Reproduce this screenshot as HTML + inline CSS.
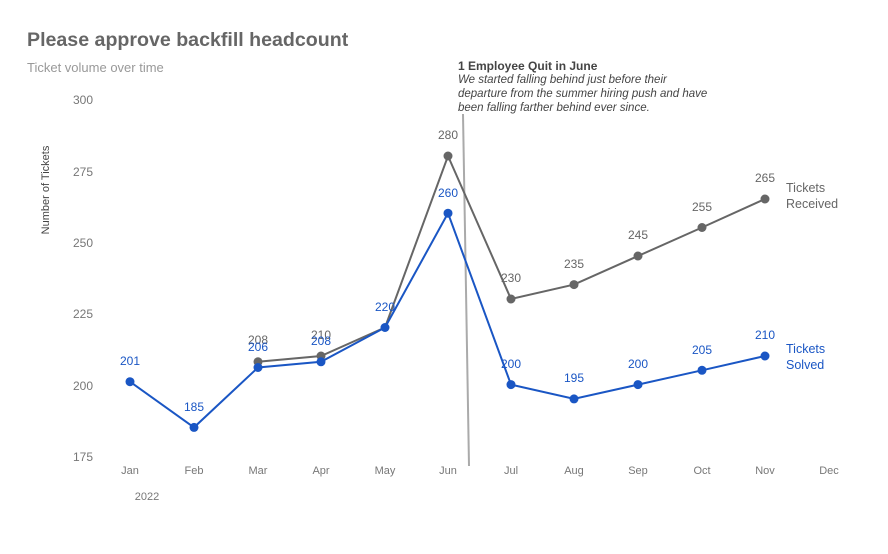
<!DOCTYPE html><html><head><style>body{margin:0;background:#fff}svg{font-family:"Liberation Sans",sans-serif}</style></head><body>
<svg width="888" height="549" viewBox="0 0 888 549">
<text x="27" y="46" font-size="19.6" font-weight="bold" fill="#666">Please approve backfill headcount</text>
<text x="27" y="72" font-size="13" fill="#999">Ticket volume over time</text>
<g font-size="12" fill="#777" text-anchor="end">
<text x="93" y="104">300</text><text x="93" y="176">275</text><text x="93" y="247">250</text><text x="93" y="318">225</text><text x="93" y="390">200</text><text x="93" y="461">175</text></g>
<text transform="translate(49,190) rotate(-90)" font-size="11" fill="#444" text-anchor="middle">Number of Tickets</text>
<g font-size="11" fill="#777" text-anchor="middle">
<text x="130" y="474">Jan</text><text x="194" y="474">Feb</text><text x="258" y="474">Mar</text><text x="321" y="474">Apr</text><text x="385" y="474">May</text><text x="448" y="474">Jun</text><text x="511" y="474">Jul</text><text x="574" y="474">Aug</text><text x="638" y="474">Sep</text><text x="702" y="474">Oct</text><text x="765" y="474">Nov</text><text x="829" y="474">Dec</text>
<text x="147" y="500">2022</text></g>
<line x1="463" y1="114" x2="469" y2="466" stroke="#aaa" stroke-width="2"/>
<text x="458" y="70" font-size="12" font-weight="bold" fill="#444">1 Employee Quit in June</text>
<g font-size="11.5" font-style="italic" fill="#444"><text x="458" y="83">We started falling behind just before their</text><text x="458" y="97">departure from the summer hiring push and have</text><text x="458" y="111">been falling farther behind ever since.</text></g>
<g fill="#666" stroke="#666">
<polyline fill="none" stroke-width="2" points="258,361.8 321,356 385,327.5 448,156 511,299 574,284.6 638,256 702,227.5 765,199"/>
<g stroke="none"><circle cx="258" cy="361.8" r="4.5"/><circle cx="321" cy="356" r="4.5"/><circle cx="448" cy="156" r="4.5"/><circle cx="511" cy="299" r="4.5"/><circle cx="574" cy="284.6" r="4.5"/><circle cx="638" cy="256" r="4.5"/><circle cx="702" cy="227.5" r="4.5"/><circle cx="765" cy="199" r="4.5"/></g></g>
<g font-size="12" fill="#666" text-anchor="middle"><text x="258" y="344">208</text><text x="321" y="339">210</text><text x="448" y="139">280</text><text x="511" y="282">230</text><text x="574" y="268">235</text><text x="638" y="239">245</text><text x="702" y="211">255</text><text x="765" y="182">265</text></g>
<g fill="#1a56c4" stroke="#1a56c4">
<polyline fill="none" stroke-width="2" points="130,381.7 194,427.4 258,367.5 321,361.8 385,327.5 448,213.2 511,384.6 574,398.9 638,384.6 702,370.3 765,356"/>
<g stroke="none"><circle cx="130" cy="381.7" r="4.5"/><circle cx="194" cy="427.4" r="4.5"/><circle cx="258" cy="367.5" r="4.5"/><circle cx="321" cy="361.8" r="4.5"/><circle cx="385" cy="327.5" r="4.5"/><circle cx="448" cy="213.2" r="4.5"/><circle cx="511" cy="384.6" r="4.5"/><circle cx="574" cy="398.9" r="4.5"/><circle cx="638" cy="384.6" r="4.5"/><circle cx="702" cy="370.3" r="4.5"/><circle cx="765" cy="356" r="4.5"/></g></g>
<g font-size="12" fill="#1a56c4" text-anchor="middle"><text x="130" y="365">201</text><text x="194" y="411">185</text><text x="258" y="351">206</text><text x="321" y="345">208</text><text x="385" y="311">220</text><text x="448" y="197">260</text><text x="511" y="368">200</text><text x="574" y="382">195</text><text x="638" y="368">200</text><text x="702" y="354">205</text><text x="765" y="339">210</text></g>
<g font-size="12.5"><text x="786" y="192" fill="#666">Tickets</text><text x="786" y="208" fill="#666">Received</text>
<text x="786" y="353" fill="#1a56c4">Tickets</text><text x="786" y="369" fill="#1a56c4">Solved</text></g>
</svg></body></html>
